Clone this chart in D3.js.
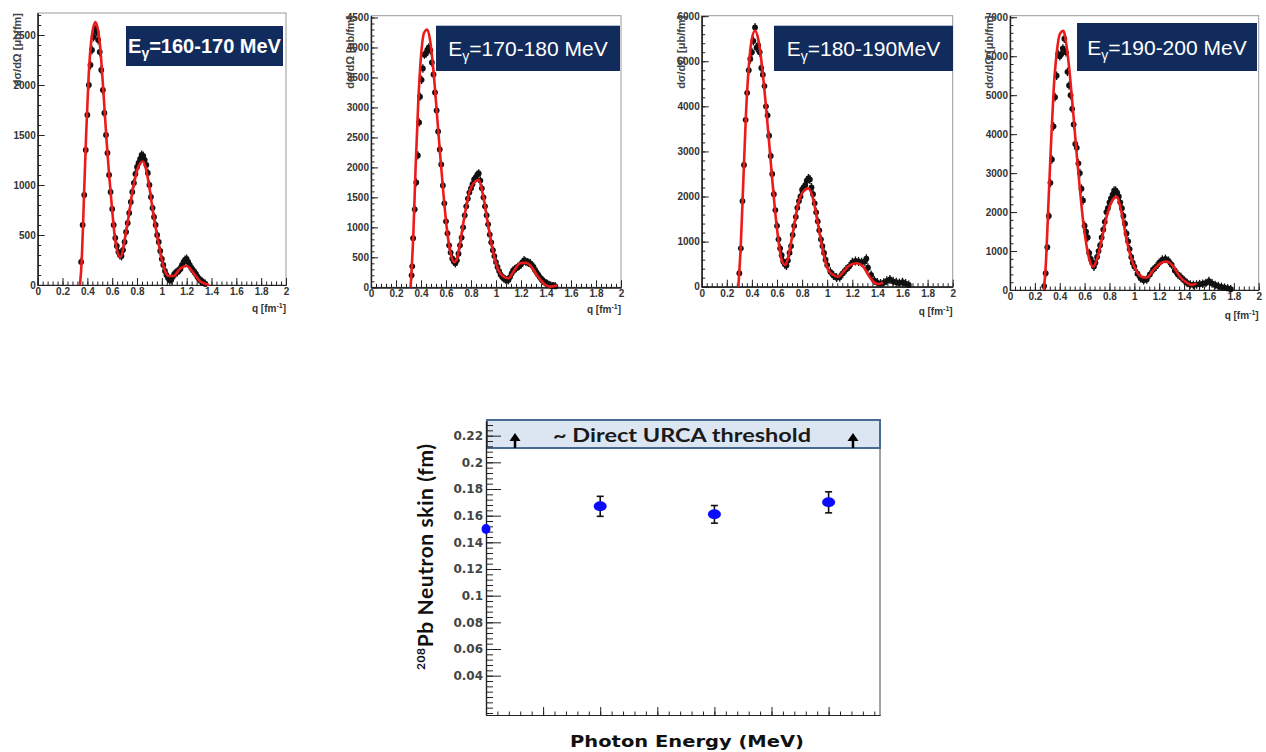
<!DOCTYPE html>
<html>
<head>
<meta charset="utf-8">
<script src="https://cdn.jsdelivr.net/npm/d3@7"></script>
<style>
  body { margin: 0; background: #fff; }
  svg { display: block; }
  .tick text { font-family: "Liberation Sans", Arial, sans-serif; font-weight: bold; font-size: 10px; fill: #333; }
</style>
</head>
<body>
<svg id="chart"></svg>
<script>
// ---- top panels: [q (fm^-1), dsigma/dOmega] ----
const fit160 = [[0.34,0],[0.355,250],[0.37,780],[0.39,1500],[0.41,2080],[0.435,2480],[0.465,2630],[0.50,2420],[0.53,1920],[0.556,1420],[0.597,790],[0.624,450],[0.665,280],[0.718,580],[0.77,980],[0.81,1180],[0.847,1235],[0.89,1050],[0.93,720],[0.973,420],[1.013,185],[1.054,90],[1.094,90],[1.148,165],[1.20,190],[1.255,120],[1.31,35],[1.36,8],[1.38,0]]
const dots160 = [[0.35,230],[0.362,600],[0.375,900],[0.387,1350],[0.40,1700],[0.412,2000],[0.425,2200],[0.437,2350],[0.45,2480],[0.462,2560],[0.475,2530],[0.487,2450],[0.50,2330],[0.512,2150],[0.525,1950],[0.537,1720],[0.55,1500],[0.562,1320],[0.575,1100],[0.587,930],[0.60,760],[0.612,600],[0.625,470],[0.637,390],[0.65,330],[0.662,300],[0.675,290],[0.687,350],[0.70,430],[0.712,530],[0.725,620],[0.737,720],[0.75,830],[0.762,930],[0.775,1020],[0.787,1110],[0.80,1180],[0.812,1220],[0.825,1260],[0.837,1300],[0.85,1290],[0.862,1250],[0.875,1200],[0.887,1120],[0.90,1000],[0.912,880],[0.925,770],[0.937,680],[0.95,600],[0.962,500],[0.975,430],[0.987,340],[1.0,260],[1.012,200],[1.025,140],[1.037,100],[1.05,70],[1.062,50],[1.075,50],[1.087,80],[1.10,110],[1.112,120],[1.125,130],[1.137,150],[1.15,160],[1.162,200],[1.175,230],[1.187,250],[1.20,260],[1.212,230],[1.225,200],[1.237,170],[1.25,150],[1.262,130],[1.275,110],[1.287,80],[1.30,60],[1.312,45],[1.325,30],[1.337,20],[1.35,10]]

const fit170 = [[0.317,0],[0.339,900],[0.357,2010],[0.379,3130],[0.40,3850],[0.424,4240],[0.45,4300],[0.472,4130],[0.499,3630],[0.525,2960],[0.552,2240],[0.579,1570],[0.605,1010],[0.632,620],[0.665,420],[0.685,460],[0.712,730],[0.752,1240],[0.792,1620],[0.832,1760],[0.859,1790],[0.899,1510],[0.939,1010],[0.979,570],[1.019,290],[1.059,180],[1.099,150],[1.139,260],[1.192,400],[1.24,410],[1.272,370],[1.325,210],[1.379,70],[1.432,12],[1.49,30]]
const dots170 = [[0.325,200],[0.33,350],[0.337,820],[0.35,1300],[0.362,1750],[0.375,2200],[0.385,2750],[0.392,3180],[0.405,3460],[0.415,3650],[0.427,3880],[0.44,3900],[0.45,3960],[0.462,4000],[0.475,3950],[0.487,3750],[0.50,3550],[0.512,3250],[0.525,2950],[0.537,2600],[0.55,2300],[0.562,2050],[0.575,1700],[0.587,1400],[0.60,1100],[0.612,900],[0.625,700],[0.637,580],[0.65,480],[0.662,430],[0.675,400],[0.687,450],[0.70,560],[0.712,700],[0.725,830],[0.737,1000],[0.75,1200],[0.762,1350],[0.775,1480],[0.787,1580],[0.80,1650],[0.812,1720],[0.825,1800],[0.837,1830],[0.85,1880],[0.862,1900],[0.875,1780],[0.887,1650],[0.90,1500],[0.912,1350],[0.925,1200],[0.937,1050],[0.95,880],[0.962,750],[0.975,620],[0.987,520],[1.0,420],[1.012,340],[1.025,270],[1.037,210],[1.05,170],[1.062,150],[1.075,130],[1.087,120],[1.10,120],[1.112,170],[1.125,230],[1.137,280],[1.15,300],[1.162,320],[1.175,340],[1.187,360],[1.20,380],[1.212,420],[1.225,450],[1.237,430],[1.25,420],[1.262,410],[1.275,400],[1.287,370],[1.30,340],[1.312,290],[1.325,250],[1.337,210],[1.35,170],[1.362,140],[1.375,110],[1.387,90],[1.40,70],[1.412,55],[1.425,40],[1.437,30],[1.45,20],[1.462,18],[1.475,15]]

const fit180 = [[0.292,0],[0.311,890],[0.332,2370],[0.353,3840],[0.375,4880],[0.398,5470],[0.425,5680],[0.452,5470],[0.478,4950],[0.505,4210],[0.531,3400],[0.558,2510],[0.584,1700],[0.611,1040],[0.637,590],[0.667,480],[0.69,670],[0.73,1260],[0.77,1850],[0.81,2110],[0.85,2180],[0.89,1920],[0.93,1330],[0.97,740],[1.009,370],[1.049,260],[1.089,220],[1.129,330],[1.182,480],[1.235,520],[1.288,440],[1.328,260],[1.368,110],[1.408,60],[1.447,90]]
const dots180 = [[0.30,300],[0.312,850],[0.325,1900],[0.337,2700],[0.35,3700],[0.362,4300],[0.375,4800],[0.387,5050],[0.40,5200],[0.412,5450],[0.425,5750],[0.437,5300],[0.45,5350],[0.462,5200],[0.475,4850],[0.487,4700],[0.50,4450],[0.512,4000],[0.525,3800],[0.537,3350],[0.55,2900],[0.562,2500],[0.575,2050],[0.587,1700],[0.60,1350],[0.612,1050],[0.625,850],[0.637,700],[0.65,560],[0.662,500],[0.675,470],[0.687,580],[0.70,750],[0.712,900],[0.725,1150],[0.737,1350],[0.75,1550],[0.762,1750],[0.775,1900],[0.787,2000],[0.80,2150],[0.812,2200],[0.825,2250],[0.837,2350],[0.85,2400],[0.862,2380],[0.875,2200],[0.887,2050],[0.90,1850],[0.912,1650],[0.925,1450],[0.937,1250],[0.95,1050],[0.962,900],[0.975,750],[0.987,600],[1.0,480],[1.025,330],[1.05,250],[1.075,200],[1.10,210],[1.125,300],[1.15,380],[1.175,450],[1.20,540],[1.225,570],[1.25,560],[1.275,540],[1.30,560],[1.312,620],[1.325,420],[1.35,260],[1.375,140],[1.40,90],[1.425,70],[1.45,90],[1.475,130],[1.50,160],[1.525,120],[1.55,100],[1.575,80],[1.60,100],[1.625,70],[1.65,40]]

const fit190 = [[0.273,0],[0.29,770],[0.308,2140],[0.33,3760],[0.351,5130],[0.375,6070],[0.402,6580],[0.429,6650],[0.456,6240],[0.483,5470],[0.509,4530],[0.536,3500],[0.563,2560],[0.59,1710],[0.617,1110],[0.643,730],[0.67,600],[0.697,770],[0.737,1280],[0.777,1880],[0.818,2270],[0.858,2390],[0.898,1970],[0.938,1280],[0.979,770],[1.019,470],[1.059,340],[1.099,320],[1.153,510],[1.206,680],[1.26,730],[1.314,600],[1.367,340],[1.421,190],[1.461,130],[1.50,170]]
const dots190 = [[0.275,100],[0.287,430],[0.30,1100],[0.312,1900],[0.325,2750],[0.337,3350],[0.35,4200],[0.362,4950],[0.375,5500],[0.387,6050],[0.40,6000],[0.412,6050],[0.425,6200],[0.437,6450],[0.45,6100],[0.462,5600],[0.475,5250],[0.487,5000],[0.50,4650],[0.512,4250],[0.525,3750],[0.537,3650],[0.55,3250],[0.562,3000],[0.575,2600],[0.587,2300],[0.60,1650],[0.612,1500],[0.625,1350],[0.637,950],[0.65,800],[0.662,700],[0.675,600],[0.687,700],[0.70,850],[0.712,1000],[0.725,1150],[0.737,1350],[0.75,1550],[0.762,1750],[0.775,2000],[0.787,2100],[0.80,2250],[0.812,2350],[0.825,2450],[0.837,2550],[0.85,2550],[0.862,2500],[0.875,2400],[0.887,2250],[0.90,2100],[0.912,1900],[0.925,1700],[0.937,1450],[0.95,1250],[0.962,1050],[0.975,850],[0.987,700],[1.0,600],[1.025,420],[1.05,300],[1.075,250],[1.10,270],[1.125,400],[1.15,520],[1.175,600],[1.20,700],[1.225,780],[1.25,800],[1.275,750],[1.30,650],[1.325,500],[1.35,400],[1.375,330],[1.40,250],[1.425,180],[1.45,140],[1.475,130],[1.50,140],[1.525,150],[1.55,160],[1.575,180],[1.60,230],[1.625,170],[1.65,130],[1.675,100],[1.70,80],[1.725,60],[1.75,40],[1.775,20]]

const PANEL_BINS = ["160-170 MeV", "170-180 MeV", "180-190MeV", "190-200 MeV"]
const PANEL_FITS = [fit160, fit170, fit180, fit190]
const PANEL_DOTS = [dots160, dots170, dots180, dots190]
const DOT_ERRORS = [45, 70, 100, 110]

// ---- bottom chart: neutron skin vs photon energy ----
const ENERGY = [165, 175, 185, 195]
const SKIN = [0.150, 0.167, 0.161, 0.170]
const SKIN_ERR = [0, 0.0075, 0.0066, 0.0079]
const SKIN_TICKS = [0.04, 0.06, 0.08, 0.1, 0.12, 0.14, 0.16, 0.18, 0.2, 0.22]

const WIDTH = 1266
const HEIGHT = 752

// layout of the four small panels (pixels)
const LAYOUT = [
  { left: 37.7, right: 286, top: 13, bottom: 285, yMax: 2720, yStep: 500, yMinor: 100, box: [126, 26, 283, 66], xlab: 312 },
  { left: 371, right: 621, top: 15.7, bottom: 287.3, yMax: 4530, yStep: 500, yMinor: 100, box: [436, 25.7, 620, 71], xlab: 313 },
  { left: 701.7, right: 952.7, top: 15.7, bottom: 286.7, yMax: 6010, yStep: 1000, yMinor: 200, box: [774, 25.7, 953, 71], xlab: 315 },
  { left: 1010, right: 1258.7, top: 15.7, bottom: 290, yMax: 7040, yStep: 1000, yMinor: 200, box: [1077, 23, 1257, 71], xlab: 319 }
]

let svg = d3.select("#chart")
  .attr("width", WIDTH)
  .attr("height", HEIGHT)

PANEL_FITS.forEach((fit, i) => drawPanel(i))
drawSkinChart()

function styleAxis(g) {
  g.selectAll(".domain").attr("stroke", "#222").attr("stroke-width", 1.2)
  g.selectAll(".tick line").attr("stroke", "#222").attr("stroke-width", 1)
}

function drawPanel(i) {
  let L = LAYOUT[i]
  let x = d3.scaleLinear().domain([0, 2]).range([L.left, L.right])
  let y = d3.scaleLinear().domain([0, L.yMax]).range([L.bottom, L.top])
  let g = svg.append("g")

  g.append("rect")
    .attr("x", L.left).attr("y", L.top)
    .attr("width", L.right - L.left).attr("height", L.bottom - L.top)
    .attr("fill", "none")
    .attr("stroke", "#999")

  // x axis, minor then major ticks (pointing inward)
  g.append("g")
    .attr("transform", `translate(0,${L.bottom})`)
    .call(d3.axisBottom(x).tickValues(d3.range(0, 2.001, 0.04)).tickSize(-3.5).tickSizeOuter(0).tickFormat(""))
    .call(styleAxis)
  g.append("g")
    .attr("transform", `translate(0,${L.bottom})`)
    .call(d3.axisBottom(x).tickValues(d3.range(0, 2.001, 0.2)).tickSize(-7).tickSizeOuter(0).tickPadding(3)
      .tickFormat(d => String(+d.toFixed(1))))
    .call(styleAxis)

  // y axis
  g.append("g")
    .attr("transform", `translate(${L.left},0)`)
    .call(d3.axisLeft(y).tickValues(d3.range(0, L.yMax, L.yMinor)).tickSize(-3.5).tickSizeOuter(0).tickFormat(""))
    .call(styleAxis)
  g.append("g")
    .attr("transform", `translate(${L.left},0)`)
    .call(d3.axisLeft(y).tickValues(d3.range(0, L.yMax, L.yStep)).tickSize(-7).tickSizeOuter(0).tickPadding(2)
      .tickFormat(d3.format("d")))
    .call(styleAxis)

  // axis titles
  g.append("text")
    .attr("transform", `translate(${L.left - 17},${L.top}) rotate(-90)`)
    .attr("text-anchor", "end")
    .style("font-family", "Liberation Sans, Arial, sans-serif")
    .style("font-size", "11px")
    .style("font-weight", "bold")
    .style("fill", "#444")
    .text("dσ/dΩ [μb/fm]")

  let xt = g.append("text")
    .attr("x", L.right)
    .attr("y", L.xlab)
    .attr("text-anchor", "end")
    .style("font-family", "Liberation Sans, Arial, sans-serif")
    .style("font-size", "10px")
    .style("font-weight", "bold")
    .style("fill", "#333")
  xt.append("tspan").text("q [fm")
  xt.append("tspan").attr("dy", -4).style("font-size", "7px").text("-1")
  xt.append("tspan").attr("dy", 4).text("]")

  // data points with error bars
  let dots = PANEL_DOTS[i]
  let err = DOT_ERRORS[i]
  g.append("g").selectAll("line")
    .data(dots)
    .enter()
    .append("line")
    .attr("x1", d => x(d[0])).attr("x2", d => x(d[0]))
    .attr("y1", d => y(Math.max(0, d[1] - err))).attr("y2", d => y(d[1] + err))
    .attr("stroke", "#111")
    .attr("stroke-width", 1.3)
  g.append("g").selectAll("circle")
    .data(dots)
    .enter()
    .append("circle")
    .attr("cx", d => x(d[0]))
    .attr("cy", d => y(d[1]))
    .attr("r", 2.9)
    .attr("fill", "#111")

  // fit curve
  let line = d3.line()
    .x(d => x(d[0]))
    .y(d => y(d[1]))
    .curve(d3.curveMonotoneX)
  g.append("path")
    .datum(PANEL_FITS[i])
    .attr("d", line)
    .attr("fill", "none")
    .attr("stroke", "#ec1b1b")
    .attr("stroke-width", 2.6)

  // energy bin label
  let [bx0, by0, bx1, by1] = L.box
  g.append("rect")
    .attr("x", bx0).attr("y", by0)
    .attr("width", bx1 - bx0).attr("height", by1 - by0)
    .attr("fill", "#112b5c")
  let narrow = i === 0
  let fs = narrow ? 20 : 21
  let t = g.append("text")
    .attr("x", (bx0 + bx1) / 2)
    .attr("y", (by0 + by1) / 2 + (narrow ? 7 : 8))
    .attr("text-anchor", "middle")
    .style("font-family", narrow ? "Liberation Sans Narrow, Arial Narrow, Liberation Sans, sans-serif" : "Liberation Sans, Arial, sans-serif")
    .style("font-weight", narrow ? "bold" : "normal")
    .style("font-size", fs + "px")
    .style("fill", "#fff")
  t.append("tspan").text("E")
  t.append("tspan").attr("dy", 5).style("font-size", Math.round(fs * 0.68) + "px").text("γ")
  t.append("tspan").attr("dy", -5).text("=" + PANEL_BINS[i])
}

function drawSkinChart() {
  let left = 486, right = 880, top = 421, bottom = 715
  let x = d3.scaleLinear().domain([165, 199.5]).range([left, right])
  let y = d3.scaleLinear().domain([0.0105, 0.231]).range([bottom, top])
  let g = svg.append("g")

  // threshold band
  g.append("rect")
    .attr("x", left + 1).attr("y", top - 1)
    .attr("width", right - left - 1).attr("height", 28)
    .attr("fill", "#dce6f2")
    .attr("stroke", "#4a6a94")
    .attr("stroke-width", 2)
  g.append("text")
    .attr("x", 682)
    .attr("y", 441.5)
    .attr("text-anchor", "middle")
    .attr("textLength", 258)
    .attr("lengthAdjust", "spacingAndGlyphs")
    .style("font-family", "Lato, Open Sans, sans-serif")
    .style("font-weight", "bold")
    .style("font-size", "19px")
    .style("fill", "#1a1a1a")
    .text("~ Direct URCA threshold")
  ;[515, 853].forEach(ax => {
    g.append("line")
      .attr("x1", ax).attr("x2", ax)
      .attr("y1", 448).attr("y2", 439)
      .attr("stroke", "#000")
      .attr("stroke-width", 2.5)
    g.append("path")
      .attr("d", `M${ax - 5.5},441 L${ax + 5.5},441 L${ax},433 Z`)
      .attr("fill", "#000")
  })

  // right frame edge
  g.append("line")
    .attr("x1", right).attr("x2", right)
    .attr("y1", top + 27).attr("y2", bottom)
    .attr("stroke", "#666")
    .attr("stroke-width", 1.2)

  // x axis
  g.append("g")
    .attr("transform", `translate(0,${bottom})`)
    .call(d3.axisBottom(x).tickValues(d3.range(166, 199.6, 1)).tickSize(-3.5).tickSizeOuter(0).tickFormat(""))
    .call(styleAxis)
  g.append("g")
    .attr("transform", `translate(0,${bottom})`)
    .call(d3.axisBottom(x).tickValues(d3.range(170, 199.6, 5)).tickSize(-8).tickSizeOuter(0).tickFormat(""))
    .call(styleAxis)

  // y axis
  g.append("g")
    .attr("transform", `translate(${left},0)`)
    .call(d3.axisLeft(y).tickValues(d3.range(0.012, 0.2305, 0.004)).tickSize(-7).tickSizeOuter(0).tickFormat(""))
    .call(styleAxis)
  let ya = g.append("g")
    .attr("transform", `translate(${left},0)`)
    .call(d3.axisLeft(y).tickValues(SKIN_TICKS).tickSize(-15).tickSizeOuter(0).tickPadding(3).tickFormat(d => String(d)))
    .call(styleAxis)
  ya.selectAll(".tick text")
    .style("font-family", "DejaVu Sans, sans-serif")
    .style("font-weight", "bold")
    .style("font-size", "12px")
    .style("fill", "#444")

  // y title
  let yt = g.append("text")
    .attr("transform", "translate(433,557) rotate(-90)")
    .attr("text-anchor", "middle")
    .attr("textLength", 226)
    .style("font-family", "Lato, Liberation Sans, sans-serif")
    .style("font-weight", "bold")
    .style("font-size", "21px")
    .style("fill", "#111")
  yt.append("tspan").attr("dy", -8).style("font-size", "12px").text("208")
  yt.append("tspan").attr("dy", 8).text("Pb Neutron skin (fm)")

  // x title
  g.append("text")
    .attr("x", 687)
    .attr("y", 747)
    .attr("text-anchor", "middle")
    .attr("textLength", 234)
    .attr("lengthAdjust", "spacingAndGlyphs")
    .style("font-family", "DejaVu Sans, sans-serif")
    .style("font-weight", "bold")
    .style("font-size", "15px")
    .style("fill", "#111")
    .text("Photon Energy  (MeV)")

  // measurements
  let pts = ENERGY.map((e, k) => ({ e: e, v: SKIN[k], err: SKIN_ERR[k] }))
  let eb = g.append("g").selectAll("g")
    .data(pts.filter(p => p.err > 0))
    .enter()
    .append("g")
    .attr("stroke", "#111")
    .attr("stroke-width", 1.6)
  eb.append("line")
    .attr("x1", p => x(p.e)).attr("x2", p => x(p.e))
    .attr("y1", p => y(p.v - p.err)).attr("y2", p => y(p.v + p.err))
  eb.append("line")
    .attr("x1", p => x(p.e) - 3.5).attr("x2", p => x(p.e) + 3.5)
    .attr("y1", p => y(p.v - p.err)).attr("y2", p => y(p.v - p.err))
  eb.append("line")
    .attr("x1", p => x(p.e) - 3.5).attr("x2", p => x(p.e) + 3.5)
    .attr("y1", p => y(p.v + p.err)).attr("y2", p => y(p.v + p.err))
  g.append("g").selectAll("ellipse")
    .data(pts)
    .enter()
    .append("ellipse")
    .attr("cx", p => x(p.e))
    .attr("cy", p => y(p.v))
    .attr("rx", p => p.err > 0 ? 6.5 : 4.5)
    .attr("ry", 5)
    .attr("fill", "#0a0aff")
}
</script>
</body>
</html>
